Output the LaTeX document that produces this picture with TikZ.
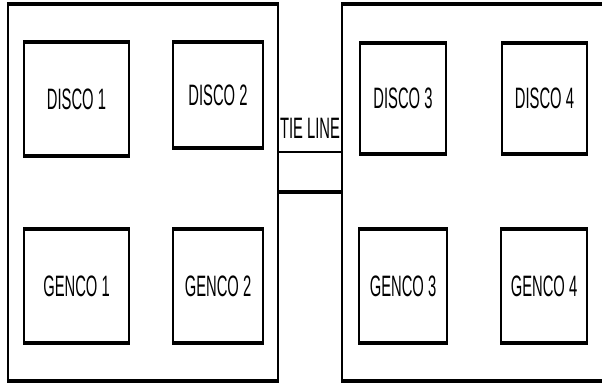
\documentclass[tikz,border=0pt]{standalone}
\usepackage{fontspec}
\setmainfont{Liberation Sans}[FakeStretch=0.5]
\usetikzlibrary{positioning}

\begin{document}
\begin{tikzpicture}[
    x=0.025cm, y=-0.025cm,
    every node/.style={font=\fontsize{21}{24}\selectfont, inner sep=0pt},
    area/.style={draw, line width=1.4pt},
    unit/.style={draw, line width=1.4pt},
    rim/.style={line width=3pt}
]
\useasboundingbox (0,0) rectangle (602,385);

% control areas
\node (larea) [area, minimum width=6.75cm, minimum height=9.375cm] at (143,192.5) {};
\node (rarea) [area, minimum width=6.95cm, minimum height=9.375cm] at (481,192.5) {};

% area 1
\node (d1) [unit, minimum width=2.625cm, minimum height=2.8cm] at (76.5,99) {DISCO 1};
\node (d2) [unit, minimum width=2.25cm, minimum height=2.6cm] at (218,95) {DISCO 2};
\node (g1) [unit, minimum width=2.625cm, minimum height=2.8cm] at (76.5,286) {GENCO 1};
\node (g2) [unit, minimum width=2.25cm, minimum height=2.8cm] at (218,286) {GENCO 2};

% area 2
\node (d3) [unit, minimum width=2.15cm, minimum height=2.725cm] at (403,98.5) {DISCO 3};
\node (d4) [unit, minimum width=2.125cm, minimum height=2.725cm] at (544.5,98.5) {DISCO 4};
\node (g3) [unit, minimum width=2.2cm, minimum height=2.8cm] at (403,286) {GENCO 3};
\node (g4) [unit, minimum width=2.15cm, minimum height=2.8cm] at (544,286) {GENCO 4};

\foreach \n in {larea,rarea,d1,d2,d3,d4,g1,g2,g3,g4} {
    \draw[rim] (\n.north west) -- (\n.north east);
    \draw[rim] (\n.south west) -- (\n.south east);
}

% tie line
\node (tie) at (310,128) {TIE LINE};
\draw[line width=1.4pt] (larea.east |- 0,152) -- (rarea.west |- 0,152);
\draw[rim] (larea.east |- 0,192) -- (rarea.west |- 0,192);

\end{tikzpicture}
\end{document}
